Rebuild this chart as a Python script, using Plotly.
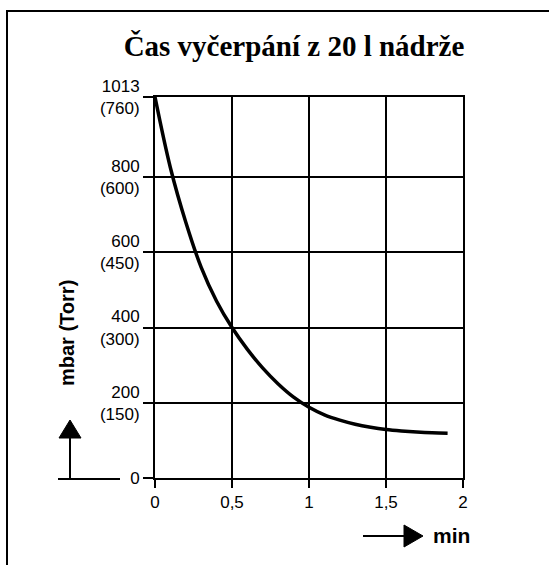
import plotly.graph_objects as go

# Data
time_min = [0, 0.1, 0.2, 0.3, 0.4, 0.5, 0.6, 0.7, 0.8, 0.9, 1.0, 1.1, 1.2, 1.3, 1.4, 1.5, 1.6, 1.7, 1.8, 1.9]
pressure_mbar = [1013, 825, 680, 560, 470, 400, 342, 292, 250, 215, 188, 168, 154, 143, 135, 129, 125, 122, 120, 119]

x_tickvals = [0, 0.5, 1, 1.5, 2]
x_ticktext = ["0", "0,5", "1", "1,5", "2"]
y_tickvals = [0, 200, 400, 600, 800, 1013]
y_ticktext = ["0", "200<br>(150)", "400<br>(300)", "600<br>(450)", "800<br>(600)", "1013<br>(760)"]

title_text = "<b>Čas vyčerpání z 20 l nádrže</b>"
y_label = "<b>mbar (Torr)</b>"
x_label = "<b>min</b>"

W, H = 549, 565
L, R, T, B = 155, 86, 97, 87
PW = W - L - R
PH = H - T - B


def px(x):
    return (x - L) / PW


def py(y):
    return (H - B - y) / PH


fig = go.Figure()
fig.add_trace(go.Scatter(
    x=time_min, y=pressure_mbar, mode="lines",
    line=dict(color="black", width=3.5, shape="spline"),
    hoverinfo="skip", showlegend=False,
))

tick_font = dict(family="Liberation Sans, Arial, sans-serif", size=17, color="black")

fig.update_xaxes(
    range=[0, 2], tickvals=x_tickvals, ticktext=x_ticktext,
    showgrid=True, gridcolor="black", gridwidth=2,
    showline=True, linecolor="black", linewidth=2, mirror=True,
    ticks="outside", ticklen=8, tickwidth=2, tickcolor="black",
    zeroline=False, tickfont=tick_font, fixedrange=True,
)
fig.update_yaxes(
    range=[0, 1013], tickvals=y_tickvals, ticktext=y_ticktext,
    showgrid=True, gridcolor="black", gridwidth=2,
    showline=True, linecolor="black", linewidth=2, mirror=True,
    ticks="outside", ticklen=10, tickwidth=2, tickcolor="black",
    zeroline=False, tickfont=tick_font, fixedrange=True,
)

shapes = [
    # outer frame (cropped at right and bottom)
    dict(type="rect", xref="paper", yref="paper",
         x0=px(7), x1=px(570), y0=py(590), y1=py(11),
         line=dict(color="black", width=2), layer="above"),
    # up arrow near y-axis
    dict(type="line", xref="paper", yref="paper",
         x0=px(58), x1=px(120), y0=py(479), y1=py(479),
         line=dict(color="black", width=2)),
    dict(type="line", xref="paper", yref="paper",
         x0=px(70), x1=px(70), y0=py(479), y1=py(438),
         line=dict(color="black", width=2)),
    dict(type="path", xref="paper", yref="paper",
         path=f"M {px(59)},{py(438)} L {px(81)},{py(438)} L {px(70)},{py(420)} Z",
         fillcolor="black", line=dict(color="black", width=1)),
    # right arrow near x label
    dict(type="line", xref="paper", yref="paper",
         x0=px(363), x1=px(406), y0=py(536), y1=py(536),
         line=dict(color="black", width=2)),
    dict(type="path", xref="paper", yref="paper",
         path=f"M {px(404)},{py(525)} L {px(404)},{py(547)} L {px(423)},{py(536)} Z",
         fillcolor="black", line=dict(color="black", width=1)),
]

annotations = [
    dict(text=y_label, xref="paper", yref="paper", x=px(67), y=py(333),
         showarrow=False, textangle=-90, xanchor="center", yanchor="middle",
         font=dict(family="Liberation Sans, Arial, sans-serif", size=20, color="black")),
    dict(text=x_label, xref="paper", yref="paper", x=px(431), y=py(535),
         showarrow=False, xanchor="left", yanchor="middle",
         font=dict(family="Liberation Sans, Arial, sans-serif", size=21, color="black")),
]

fig.update_layout(
    width=W, height=H,
    margin=dict(l=L, r=R, t=T, b=B),
    paper_bgcolor="white", plot_bgcolor="white",
    title=dict(text=title_text, x=294 / W, xanchor="center",
               y=1 - 46 / H, yanchor="middle", yref="container",
               font=dict(family="Liberation Serif, Times New Roman, serif", size=29, color="black")),
    shapes=shapes, annotations=annotations,
    showlegend=False,
)

fig.write_html("out.html", config={"displayModeBar": False},
               post_script="document.body.style.margin='0';")
